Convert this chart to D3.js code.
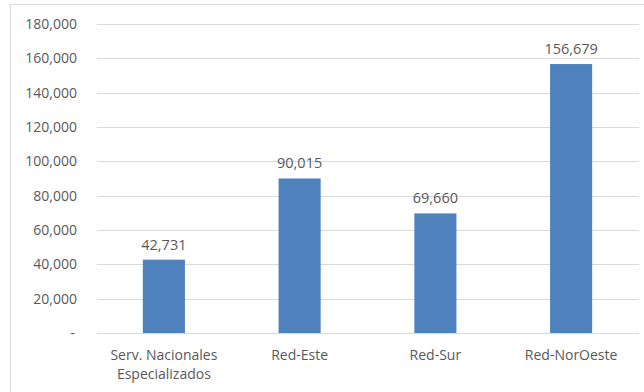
<!DOCTYPE html>
<html>
<head>
<meta charset="utf-8">
<script src="https://cdn.jsdelivr.net/npm/d3@7"></script>
<style>
  html, body { margin: 0; padding: 0; background: #fff; }
  svg { display: block; }
  text { font-family: "Open Sans", "Noto Sans", sans-serif; fill: #595959; }
</style>
</head>
<body>
<svg id="chart" width="644" height="392"></svg>
<script>
// Consultas por red de servicios
const categories = [["Serv. Nacionales", "Especializados"], ["Red-Este"], ["Red-Sur"], ["Red-NorOeste"]];
const values = [42731, 90015, 69660, 156679];
const yTicks = [0, 20000, 40000, 60000, 80000, 100000, 120000, 140000, 160000, 180000];

const svg = d3.select("#chart");
const W = 644, H = 392;
const margin = { left: 96, right: 5, top: 24, bottom: 59 };
const fmt = d3.format(",");

// chart frame
svg.append("rect")
  .attr("x", 10.5).attr("y", 4.5)
  .attr("width", W).attr("height", H)
  .attr("fill", "#fff").attr("stroke", "#d9d9d9").attr("stroke-width", 1);

const x = d3.scaleBand()
  .domain(d3.range(categories.length))
  .range([margin.left, W - margin.right])
  .paddingInner(0.69).paddingOuter(0.345);

const y = d3.scaleLinear()
  .domain([0, 180000])
  .range([H - margin.bottom, margin.top]);

// gridlines
svg.append("g")
  .selectAll("line").data(yTicks).join("line")
  .attr("x1", margin.left + 1).attr("x2", W - margin.right)
  .attr("y1", d => Math.round(y(d)) + 0.5).attr("y2", d => Math.round(y(d)) + 0.5)
  .attr("stroke", "#d9d9d9").attr("stroke-width", 1);

// y axis labels
const yAxis = d3.axisLeft(y).tickValues(yTicks)
  .tickSize(0).tickPadding(0)
  .tickFormat(d => d === 0 ? "-" : fmt(d));
const gy = svg.append("g").attr("transform", "translate(77,0)").call(yAxis);
gy.select(".domain").remove();
gy.selectAll("text")
  .attr("font-family", "'Open Sans', 'Noto Sans', sans-serif")
  .attr("font-size", 14).attr("fill", "#595959")
  .attr("dx", d => d === 0 ? -2 : 0);

// bars
svg.append("g")
  .selectAll("rect").data(values).join("rect")
  .attr("x", (d, i) => x(i))
  .attr("y", d => y(d))
  .attr("width", x.bandwidth())
  .attr("height", d => y(0) - y(d))
  .attr("fill", "#4f81bd");

// value labels
svg.append("g")
  .selectAll("text").data(values).join("text")
  .attr("x", (d, i) => x(i) + x.bandwidth() / 2)
  .attr("y", d => y(d) - 10)
  .attr("text-anchor", "middle")
  .attr("font-size", 14.5)
  .text(d => fmt(d));

// category labels
const xAxis = d3.axisBottom(x).tickSize(0).tickFormat("");
const gx = svg.append("g").attr("transform", `translate(0,${y(0)})`).call(xAxis);
gx.select(".domain").remove();
gx.selectAll(".tick").each(function(i) {
  const t = d3.select(this).append("text")
    .attr("text-anchor", "middle")
    .attr("font-size", 14)
    .attr("fill", "#595959");
  categories[i].forEach((line, k) => {
    t.append("tspan").attr("x", 0).attr("y", 27 + k * 19).text(line);
  });
});
</script>
</body>
</html>
